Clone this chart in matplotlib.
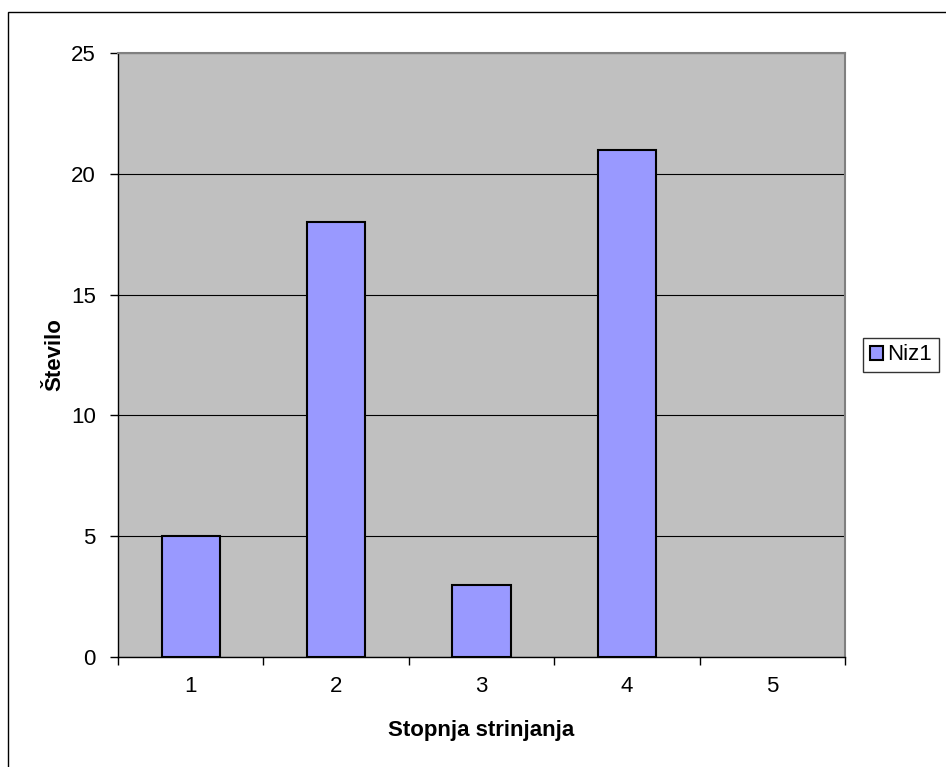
import matplotlib
matplotlib.use("Agg")
import matplotlib.pyplot as plt
from matplotlib.patches import Rectangle

plt.rcParams['font.family'] = ['Liberation Sans', 'DejaVu Sans']

categories = ['1', '2', '3', '4', '5']
values = [5, 18, 3, 21, 0]
series_name = 'Niz1'
y_ticks = [0, 5, 10, 15, 20, 25]

W, H = 946, 767
fig = plt.figure(figsize=(W / 100, H / 100), dpi=100)

# outer chart frame
fig.patches.append(Rectangle((8 / W, -0.01), 1.0, (H - 12) / H + 0.01,
                             transform=fig.transFigure, fill=False,
                             edgecolor='black', linewidth=1.0))

left, right, top, bottom = 118, 845, 53, 657
ax = fig.add_axes([left / W, 1 - bottom / H, (right - left) / W, (bottom - top) / H])
ax.set_facecolor('#C0C0C0')

x = list(range(len(categories)))
bars = ax.bar(x, values, width=0.4, color='#9999FF', edgecolor='black',
              linewidth=1.5, zorder=3, label=series_name)
for b, v in zip(bars, values):
    if v == 0:
        b.set_edgecolor('none')

ax.set_xlim(-0.5, len(categories) - 0.5)
ax.set_ylim(0, 25)
ax.set_yticks(y_ticks)
ax.yaxis.grid(True, color='black', linewidth=0.8, zorder=1)
ax.set_axisbelow(True)

ax.set_xticks(x)
ax.set_xticklabels(categories)
ax.set_xticks([i - 0.5 for i in range(len(categories) + 1)], minor=True)
ax.tick_params(axis='x', which='major', length=0, pad=14, labelsize=16)
ax.tick_params(axis='x', which='minor', length=6, width=1, direction='out')
ax.tick_params(axis='y', length=6, width=1, direction='out', pad=10, labelsize=16)

for s in ['left', 'bottom']:
    ax.spines[s].set_color('black')
    ax.spines[s].set_linewidth(1.0)
for s in ['top', 'right']:
    ax.spines[s].set_color('#808080')
    ax.spines[s].set_linewidth(1.5)

ax.set_xlabel('Stopnja strinjanja', fontsize=16, fontweight='bold', labelpad=16)
ax.set_ylabel('Število', fontsize=16, fontweight='bold', labelpad=4)

leg = ax.legend(loc='center left', bbox_to_anchor=((863 - left) / (right - left), 0.5),
                frameon=True, fancybox=False, fontsize=16, handlelength=0.6,
                handleheight=0.6, handletextpad=0.2, borderpad=0.3,
                borderaxespad=0)
leg.get_frame().set_edgecolor('black')
leg.get_frame().set_linewidth(1.0)

fig.savefig('out.png', dpi=100)
